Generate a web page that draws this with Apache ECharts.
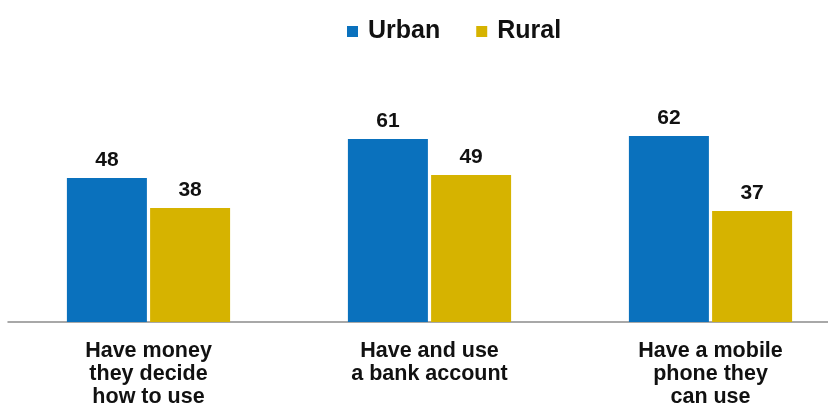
<!DOCTYPE html>
<html>
<head>
<meta charset="utf-8">
<script src="https://cdn.jsdelivr.net/npm/echarts@6/dist/echarts.min.js"></script>
<style>html,body{margin:0;padding:0;background:#fff;}#c{width:828px;height:407px;}</style>
</head>
<body>
<div id="c"></div>
<script>
const categories = ['Have money\nthey decide\nhow to use', 'Have and use\na bank account', 'Have a mobile\nphone they\ncan use'];
const urban = [48, 61, 62];
const rural = [38, 49, 37];
const seriesNames = ['Urban', 'Rural'];

const chart = echarts.init(document.getElementById('c'), null, {renderer: 'canvas'});
const font = "'Liberation Sans', Arial, sans-serif";
const labelStyle = {show: true, position: 'top', distance: 7, color: '#111', fontFamily: font, fontWeight: 'bold', fontSize: 21};
chart.setOption({
  animation: false,
  backgroundColor: '#fff',
  legend: {
    top: 14, left: 342,
    icon: 'rect', itemWidth: 11, itemHeight: 11, itemGap: 36,
    textStyle: {fontFamily: font, fontWeight: 'bold', fontSize: 25, color: '#111', padding: [0, 0, 0, 5]},
    data: seriesNames
  },
  grid: {left: 8, top: 82, width: 843, height: 240, containLabel: false, outerBoundsMode: 'none'},
  xAxis: {
    type: 'category', data: categories,
    axisLine: {show: true, lineStyle: {color: '#8c8c8c', width: 1.5}},
    axisTick: {show: false},
    axisLabel: {interval: 0, margin: 18, color: '#111', fontFamily: font, fontWeight: 'bold', fontSize: 21.5, lineHeight: 23}
  },
  yAxis: {type: 'value', min: 0, max: 80, show: false, splitLine: {show: false}},
  series: [
    {name: seriesNames[0], type: 'bar', data: urban, barWidth: 80, barGap: '4%', itemStyle: {color: '#0A71BD'}, label: labelStyle},
    {name: seriesNames[1], type: 'bar', data: rural, barWidth: 80, itemStyle: {color: '#D6B300'}, label: labelStyle}
  ]
});
</script>
</body>
</html>
